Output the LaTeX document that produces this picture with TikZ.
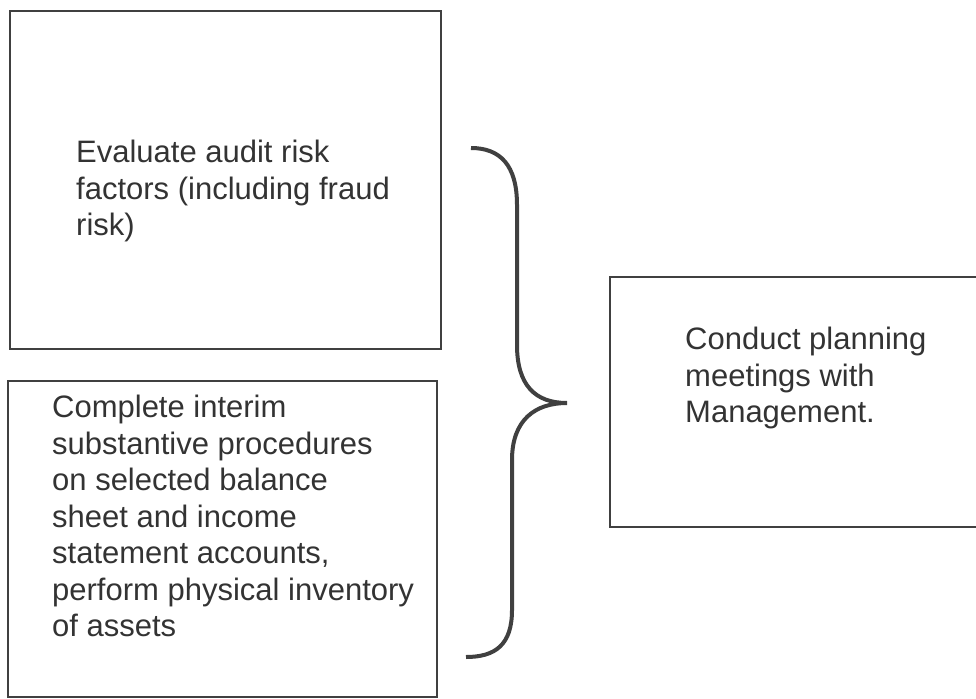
\documentclass[tikz,border=0pt]{standalone}
\usepackage{fontspec}
\setmainfont{Liberation Sans}
\begin{document}
\begin{tikzpicture}[x=1pt,y=-1pt,
  boxline/.style={draw=black!75,line width=1.8pt},
  txt/.style={anchor=north west,align=left,inner sep=0pt,text=black!80,
    font=\fontsize{31}{36.5}\selectfont},
  bracel/.style={draw=black!75,line width=4pt}]
\useasboundingbox (0,0) rectangle (976,698);
\draw[boxline] (10,11) rectangle (441,349);
\draw[boxline] (8,381) rectangle (437,697);
\draw[boxline] (610,277) rectangle (985,527);
\node[txt] (t1) at (76,140) {Evaluate audit risk\\factors (including fraud\\risk)};
\node[txt] (t2) at (52,395) {Complete interim\\substantive procedures\\on selected balance\\sheet and income\\statement accounts,\\perform physical inventory\\of assets};
\node[txt] (t3) at (685,327) {Conduct planning\\meetings with\\Management.};
\coordinate (btop) at (471,148);
\coordinate (btip) at (567,403);
\coordinate (bbot) at (466,657);
\draw[bracel,line cap=butt] (btop) .. controls (500,148) and (517,165) .. (517,205) -- (517,345) .. controls (517,385) and (535,403) .. (btip)
  .. controls (535,403) and (512,420) .. (512,460) -- (512,610) .. controls (512,645) and (495,657) .. (bbot);
\end{tikzpicture}
\end{document}
